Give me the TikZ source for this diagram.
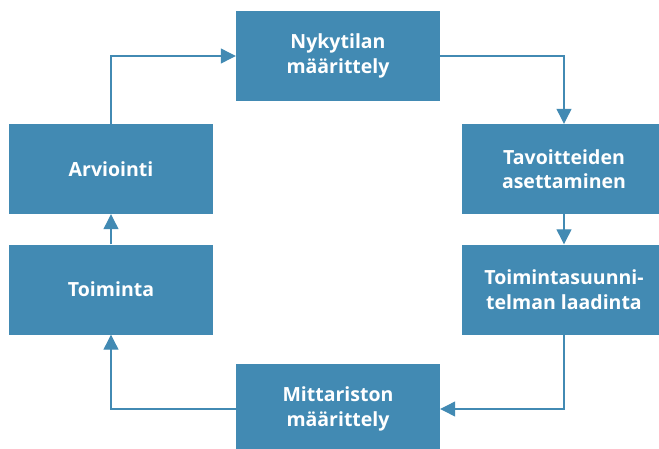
\documentclass[tikz,border=0pt]{standalone}
\usepackage{fontspec}
\setmainfont{Open Sans}
\usetikzlibrary{arrows.meta}
\definecolor{boxblue}{HTML}{428AB3}
\begin{document}
\begin{tikzpicture}[x=1pt,y=-1pt,
  stepbox/.style={fill=boxblue, draw=none, minimum width=204pt, minimum height=90pt,
    inner sep=0pt, align=center, text=white,
    font=\fontsize{19.5}{24.5}\selectfont\bfseries},
  link/.style={draw=boxblue, line width=1.2pt,
    -{Triangle[length=15pt,width=15pt]}}]
\begin{scope}
\clip (0,0) rectangle (659,448);
% process steps
\node[stepbox] (nyky) at (338,56)    {Nykytilan\\määrittely};
\node[stepbox] (tav)  at (564,169)   {Tavoitteiden\\asettaminen};
\node[stepbox] (tsu)  at (564,289.5) {Toimintasuunni-\\telman laadinta};
\node[stepbox] (mit)  at (338,409)   {Mittariston\\määrittely};
\node[stepbox] (toi)  at (111,289.5) {Toiminta};
\node[stepbox] (arv)  at (111,169)   {Arviointi};
% cycle connectors
\draw[link] (arv.north) |- (nyky.west);
\draw[link] (nyky.east) -| (tav.north);
\draw[link] (tav.south) -- (tsu.north);
\draw[link] (tsu.south) |- (mit.east);
\draw[link] (mit.west) -| (toi.south);
\draw[link] (toi.north) -- (arv.south);
\end{scope}
\pgfresetboundingbox
\useasboundingbox (0,0) rectangle (659,448);
\end{tikzpicture}
\end{document}
